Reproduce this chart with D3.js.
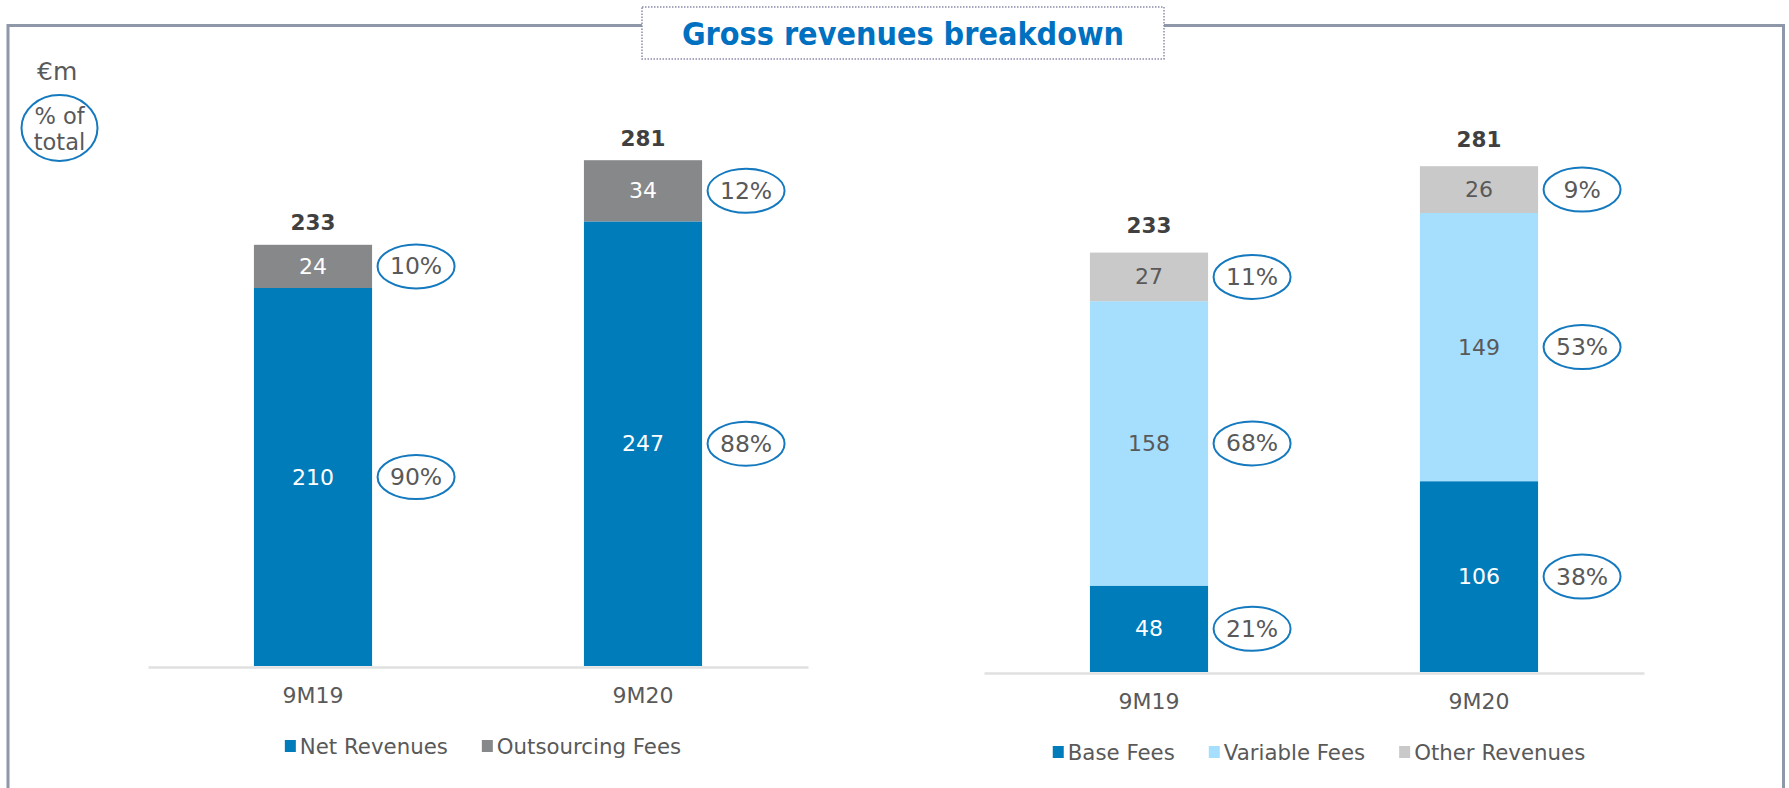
<!DOCTYPE html>
<html>
<head>
<meta charset="utf-8">
<script src="https://cdn.jsdelivr.net/npm/d3@7"></script>
<style>
  html, body { margin: 0; padding: 0; background: #fff; }
  svg { display: block; }
  text { font-family: "DejaVu Sans", Verdana, sans-serif; }
  text.title { font-family: "DejaVu Sans Condensed", "DejaVu Sans", sans-serif; font-stretch: condensed; }
</style>
</head>
<body>
<svg id="chart" width="1789" height="788"></svg>
<script>
// ---------------- data ----------------
const categories = ["9M19", "9M20"];

const leftSeriesNames = ["Net Revenues", "Outsourcing Fees"];
const netRevenues = [210, 247];
const outsourcingFees = [24, 34];
const leftTotals = [233, 281];
const netRevenuesPct = ["90%", "88%"];
const outsourcingFeesPct = ["10%", "12%"];

const rightSeriesNames = ["Base Fees", "Variable Fees", "Other Revenues"];
const baseFees = [48, 106];
const variableFees = [158, 149];
const otherRevenues = [27, 26];
const rightTotals = [233, 281];
const baseFeesPct = ["21%", "38%"];
const variableFeesPct = ["68%", "53%"];
const otherRevenuesPct = ["11%", "9%"];

const titleText = "Gross revenues breakdown";
const unitText = "€m";
const pctNoteLines = ["% of", "total"];

// ---------------- styles ----------------
const COLORS = {
  blue: "#007CBA",
  grey: "#87888A",
  lightBlue: "#A6DFFD",
  lightGrey: "#C9C9C9",
  title: "#0070C0",
  text: "#595959",
  total: "#404040",
  ellipse: "#1479BE",
  frame: "#8E98A8",
  axis: "#E0E0E0"
};

const svg = d3.select("#chart");

// frame
svg.append("path")
  .attr("d", "M8,800 L8,25.5 L1783.5,25.5 L1783.5,800")
  .attr("fill", "none")
  .attr("stroke", COLORS.frame)
  .attr("stroke-width", 3);

// title box
svg.append("rect")
  .attr("x", 642).attr("y", 7).attr("width", 522).attr("height", 52)
  .attr("fill", "#fff")
  .attr("stroke", "#8A8CAA")
  .attr("stroke-width", 1.5)
  .attr("stroke-dasharray", "1.5,1.5");
svg.append("text")
  .attr("class", "title")
  .attr("x", 903).attr("y", 34)
  .attr("text-anchor", "middle").attr("dominant-baseline", "central")
  .attr("font-size", 32).attr("font-weight", "bold")
  .attr("fill", COLORS.title)
  .text(titleText);

// unit and pct note
svg.append("text")
  .attr("x", 37).attr("y", 71)
  .attr("dominant-baseline", "central")
  .attr("font-size", 25).attr("fill", COLORS.text)
  .text(unitText);
svg.append("ellipse")
  .attr("cx", 59.5).attr("cy", 128).attr("rx", 38).attr("ry", 33)
  .attr("fill", "none").attr("stroke", COLORS.ellipse).attr("stroke-width", 2);
pctNoteLines.forEach((l, i) => {
  svg.append("text")
    .attr("x", 59.5).attr("y", 116 + i * 26)
    .attr("text-anchor", "middle").attr("dominant-baseline", "central")
    .attr("font-size", 22.5).attr("fill", COLORS.text)
    .text(l);
});

// ---------------- chart builder ----------------
function drawPanel(opts) {
  const g = svg.append("g");
  const x = d3.scaleBand()
    .domain(categories)
    .range(opts.xRange)
    .paddingInner(0.642)
    .paddingOuter(0.321);
  const y = d3.scaleLinear()
    .domain([0, 300])
    .range([opts.baseline, opts.baseline - 540]);

  const rows = categories.map((c, i) => {
    const r = { cat: c };
    opts.series.forEach(s => { r[s.name] = s.values[i]; });
    return r;
  });
  const stack = d3.stack().keys(opts.series.map(s => s.name));
  const layers = stack(rows);

  layers.forEach((layer, li) => {
    const s = opts.series[li];
    const lg = g.append("g");
    lg.selectAll("rect")
      .data(layer)
      .join("rect")
      .attr("x", d => x(d.data.cat))
      .attr("y", d => y(d[1]))
      .attr("width", x.bandwidth())
      .attr("height", d => y(d[0]) - y(d[1]))
      .attr("fill", s.color);
    lg.selectAll("text.val")
      .data(layer)
      .join("text")
      .attr("class", "val")
      .attr("x", d => x(d.data.cat) + x.bandwidth() / 2)
      .attr("y", d => (y(d[0]) + y(d[1])) / 2)
      .attr("text-anchor", "middle").attr("dominant-baseline", "central")
      .attr("font-size", 22)
      .attr("fill", s.labelColor)
      .text((d, i) => s.values[i]);
    const eg = lg.selectAll("g.pct")
      .data(layer)
      .join("g")
      .attr("class", "pct")
      .attr("transform", d => `translate(${x(d.data.cat) + x.bandwidth() + 44},${(y(d[0]) + y(d[1])) / 2})`);
    eg.append("ellipse")
      .attr("rx", 38.5).attr("ry", 22)
      .attr("fill", "#fff")
      .attr("stroke", COLORS.ellipse).attr("stroke-width", 2);
    eg.append("text")
      .attr("text-anchor", "middle").attr("dominant-baseline", "central")
      .attr("font-size", 23.5)
      .attr("fill", COLORS.text)
      .text((d, i) => s.pcts[i]);
  });

  const top = layers[layers.length - 1];
  g.selectAll("text.total")
    .data(top)
    .join("text")
    .attr("class", "total")
    .attr("x", d => x(d.data.cat) + x.bandwidth() / 2)
    .attr("y", d => y(d[1]) - opts.totalOffset)
    .attr("text-anchor", "middle").attr("dominant-baseline", "central")
    .attr("font-size", 21.5).attr("font-weight", "bold")
    .attr("fill", COLORS.total)
    .text((d, i) => opts.totals[i]);

  const axis = g.append("g")
    .attr("transform", `translate(0,${opts.baseline + 1})`)
    .call(d3.axisBottom(x).tickSize(0).tickSizeOuter(0).tickPadding(20));
  axis.select(".domain").attr("stroke", COLORS.axis).attr("stroke-width", 2.5);
  axis.selectAll(".tick text")
    .attr("font-size", 22)
    .attr("fill", COLORS.text)
    .style("font-family", '"DejaVu Sans", Verdana, sans-serif');

  const lgd = g.append("g");
  let cx = 0;
  opts.series.forEach(s => {
    const it = lgd.append("g");
    it.append("rect").attr("x", 0).attr("y", -6).attr("width", 11).attr("height", 12).attr("fill", s.color);
    const t = it.append("text")
      .attr("x", 15).attr("y", 0)
      .attr("dominant-baseline", "central")
      .attr("font-size", 21.3).attr("fill", COLORS.text)
      .text(s.name);
    const w = 15 + t.node().getComputedTextLength();
    it.attr("transform", `translate(${cx},0)`);
    cx += w + 34;
  });
  const totalW = cx - 34;
  const mid = (opts.xRange[0] + opts.xRange[1]) / 2 + 5;
  lgd.attr("transform", `translate(${mid - totalW / 2},${opts.legendY})`);
}

drawPanel({
  xRange: [148, 808],
  baseline: 666,
  legendY: 746,
  totalOffset: 22,
  totals: leftTotals,
  series: [
    { name: leftSeriesNames[0], values: netRevenues, pcts: netRevenuesPct, color: COLORS.blue, labelColor: "#fff" },
    { name: leftSeriesNames[1], values: outsourcingFees, pcts: outsourcingFeesPct, color: COLORS.grey, labelColor: "#fff" }
  ]
});

drawPanel({
  xRange: [984, 1644],
  baseline: 672,
  legendY: 752,
  totalOffset: 27,
  totals: rightTotals,
  series: [
    { name: rightSeriesNames[0], values: baseFees, pcts: baseFeesPct, color: COLORS.blue, labelColor: "#fff" },
    { name: rightSeriesNames[1], values: variableFees, pcts: variableFeesPct, color: COLORS.lightBlue, labelColor: COLORS.text },
    { name: rightSeriesNames[2], values: otherRevenues, pcts: otherRevenuesPct, color: COLORS.lightGrey, labelColor: COLORS.text }
  ]
});
</script>
</body>
</html>
